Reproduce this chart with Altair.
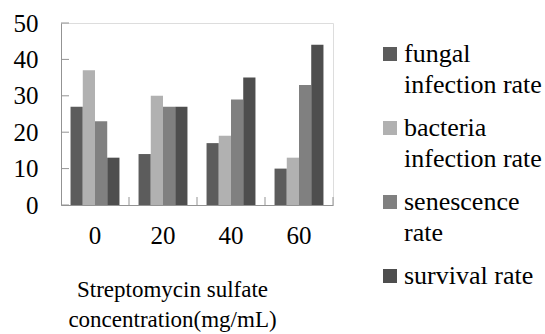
import altair as alt
import pandas as pd

concentrations = ["0", "20", "40", "60"]
series = ["fungal infection rate", "bacteria infection rate", "senescence rate", "survival rate"]
fungal = [27, 14, 17, 10]
bacteria = [37, 30, 19, 13]
senescence = [23, 27, 29, 33]
survival = [13, 27, 35, 44]
colors = ["#5c5c5c", "#b1b1b1", "#808080", "#4e4e4e"]
y_ticks = [0, 10, 20, 30, 40, 50]
x_title = ["Streptomycin sulfate", "concentration(mg/mL)"]

rows = []
for s, vals in zip(series, [fungal, bacteria, senescence, survival]):
    for c, v in zip(concentrations, vals):
        rows.append({"conc": c, "series": s, "value": v})
df = pd.DataFrame(rows)
ytick_df = pd.DataFrame({"value": y_ticks})
xtick_df = pd.DataFrame({"conc": concentrations})

FONT = "Liberation Serif"
GREY = "#939393"
W, H = 272, 182

x_scale = alt.Scale(domain=concentrations, paddingInner=0, paddingOuter=0)
y_scale = alt.Scale(domain=[0, 50], nice=False)

x_axis = alt.Axis(
    title=x_title, labelAngle=0, ticks=False, labelPadding=18,
    labelFont=FONT, labelFontSize=25, labelColor="black",
    domainColor=GREY, grid=False,
    titleFont=FONT, titleFontSize=23, titleFontWeight="normal", titleColor="black",
    titleLineHeight=30, titleX=111, titleY=73, titleAlign="center", titleBaseline="top",
)
y_axis = alt.Axis(
    title=None, values=y_ticks, ticks=False, labelPadding=23,
    labelFont=FONT, labelFontSize=25, labelColor="black",
    domainColor=GREY, grid=False,
)

label_expr = ("datum.label == 'fungal infection rate' ? ['fungal', 'infection rate'] : "
              "datum.label == 'bacteria infection rate' ? ['bacteria', 'infection rate'] : "
              "datum.label == 'senescence rate' ? ['senescence', 'rate'] : datum.label")

bars = alt.Chart(df).mark_bar().encode(
    x=alt.X("conc:N", sort=concentrations, scale=x_scale, axis=x_axis),
    xOffset=alt.XOffset("series:N", sort=series,
                        scale=alt.Scale(domain=series, paddingInner=0, paddingOuter=0.78)),
    y=alt.Y("value:Q", scale=y_scale, axis=y_axis),
    color=alt.Color("series:N", sort=series,
                    scale=alt.Scale(domain=series, range=colors),
                    legend=alt.Legend(
                        title=None, orient="none", legendX=316, legendY=18,
                        symbolType="square", symbolSize=196, symbolStrokeWidth=0,
                        symbolOpacity=1,
                        labelFont=FONT, labelFontSize=26, labelColor="black",
                        labelOffset=1, rowPadding=17, labelLimit=400,
                        labelExpr=label_expr, padding=0,
                    )),
)

yticks = alt.Chart(ytick_df).mark_rule(color=GREY, strokeWidth=1).encode(
    y=alt.Y("value:Q", scale=y_scale, axis=y_axis),
    x=alt.value(0), x2=alt.value(8),
)

xticks = alt.Chart(xtick_df).mark_rule(color=GREY, strokeWidth=1).encode(
    x=alt.X("conc:N", sort=concentrations, scale=x_scale, axis=x_axis, bandPosition=1),
    y=alt.value(H - 8), y2=alt.value(H),
)

chart = alt.layer(bars, yticks, xticks).properties(
    width=W, height=H,
    autosize=alt.AutoSizeParams(type="none"),
    padding={"left": 61, "top": 23, "right": 545 - 61 - W, "bottom": 334 - 23 - H},
    background="white",
).configure_view(stroke=None).configure(
    font=FONT,
    style={"guide-label": {"lineHeight": 31, "font": FONT, "fill": "black"}}
)

chart.save("out.html", embed_options={"renderer": "svg", "actions": False})
